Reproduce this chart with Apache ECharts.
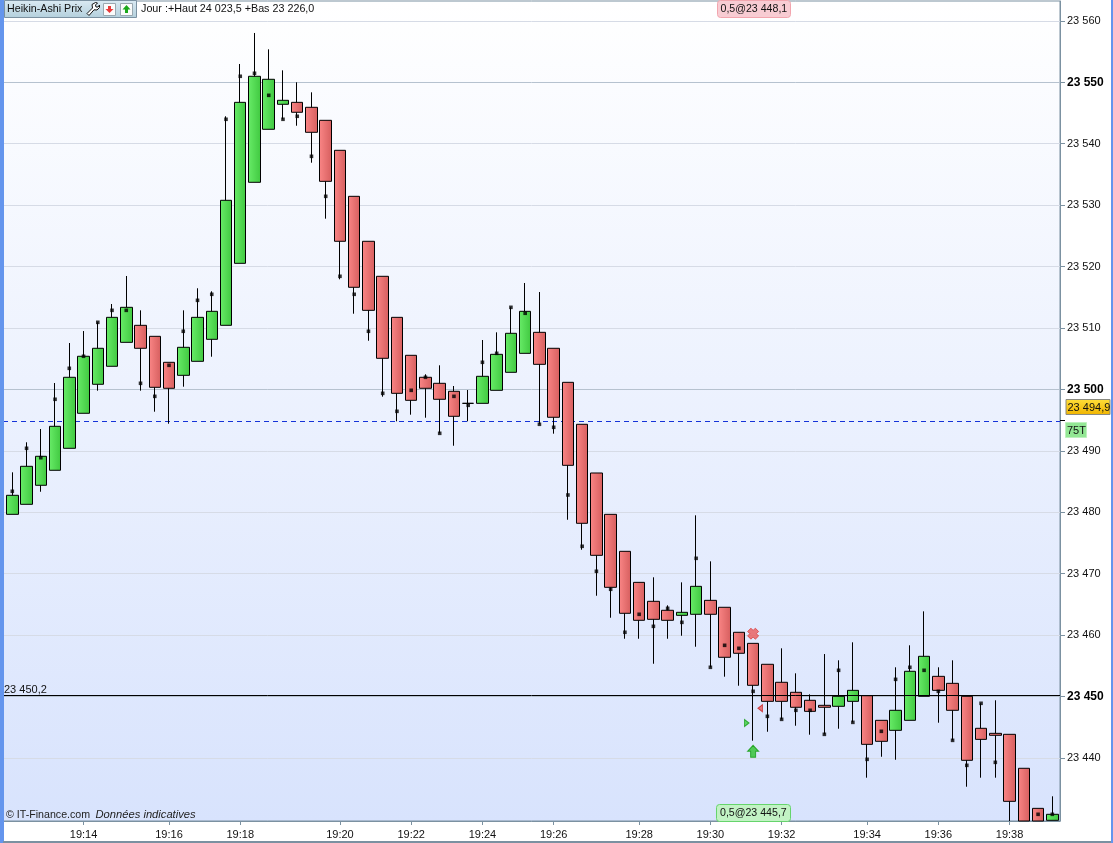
<!DOCTYPE html>
<html><head><meta charset="utf-8">
<style>html,body{margin:0;padding:0;background:#fff}#c{width:1113px;height:843px}</style>
<script src="https://cdn.jsdelivr.net/npm/echarts@6/dist/echarts.min.js"></script>
</head><body><div id="c"></div>
<script>
// Heikin-Ashi bodies and wicks, one entry per 75-tick bar
const opens=[23479.67,23481.30,23484.40,23486.84,23490.42,23496.12,23500.84,23503.77,23507.67,23510.44,23508.65,23504.42,23502.30,23504.58,23508.16,23510.44,23520.53,23533.72,23542.35,23546.42,23546.74,23545.93,23543.81,23538.93,23531.44,23524.12,23518.42,23511.74,23505.56,23501.98,23501.00,23499.70,23497.74,23497.74,23499.86,23502.79,23505.88,23509.30,23506.70,23501.16,23494.33,23486.40,23479.67,23473.65,23468.60,23465.51,23464.05,23463.23,23463.40,23465.67,23464.54,23460.47,23458.67,23455.26,23452.33,23450.70,23449.40,23448.58,23448.42,23449.23,23450.14,23446.14,23444.51,23446.14,23450.05,23453.30,23452.16,23450.05,23444.84,23444.02,23443.86,23438.33,23431.81,23429.86];
const closes=[23482.77,23487.49,23489.12,23494.00,23501.98,23505.40,23506.70,23511.74,23513.37,23506.70,23500.35,23500.19,23506.86,23511.74,23512.72,23530.79,23546.74,23550.98,23550.49,23547.07,23545.12,23541.86,23533.88,23524.12,23516.63,23512.88,23505.07,23499.37,23498.23,23500.19,23498.40,23495.63,23497.74,23502.14,23505.72,23509.14,23512.72,23504.09,23495.47,23487.65,23478.21,23473.00,23467.79,23463.56,23462.42,23462.58,23462.42,23463.72,23467.95,23463.40,23456.40,23457.05,23451.84,23449.23,23449.23,23448.26,23447.60,23448.26,23450.05,23451.02,23442.23,23442.72,23447.77,23454.12,23456.56,23451.02,23447.77,23439.63,23443.04,23443.70,23432.95,23429.75,23429.75,23430.84];
const lows=[23479.67,23481.30,23483.35,23486.84,23490.42,23496.12,23499.80,23503.77,23507.67,23499.80,23496.38,23494.42,23500.45,23504.58,23505.33,23510.44,23520.53,23533.72,23542.35,23543.98,23542.93,23536.91,23527.80,23517.93,23512.33,23507.93,23498.82,23494.81,23495.89,23495.40,23492.86,23490.84,23494.81,23497.74,23499.86,23502.79,23505.88,23494.33,23492.80,23478.79,23473.91,23466.42,23462.84,23459.42,23459.42,23455.35,23459.42,23459.91,23458.12,23454.77,23453.24,23451.77,23442.82,23444.28,23446.30,23445.26,23443.80,23443.86,23444.77,23445.81,23436.80,23440.21,23439.72,23446.14,23450.05,23445.75,23442.88,23435.33,23436.80,23436.80,23429.75,23429.75,23429.75,23429.86];
const highs=[23486.51,23491.40,23493.56,23501.05,23507.56,23509.51,23510.93,23513.91,23518.47,23512.88,23508.65,23504.42,23512.88,23516.47,23515.98,23544.47,23552.98,23558.03,23555.37,23551.95,23550.00,23548.37,23543.81,23538.93,23531.44,23524.12,23518.42,23511.74,23505.56,23502.47,23503.93,23500.56,23499.91,23508.05,23509.30,23513.37,23517.33,23515.86,23506.70,23501.16,23494.33,23486.40,23479.67,23473.65,23468.60,23469.42,23464.86,23468.60,23479.51,23472.02,23464.54,23460.47,23458.67,23455.26,23457.86,23453.79,23450.37,23456.93,23455.91,23458.84,23450.14,23446.14,23454.77,23458.35,23463.88,23454.77,23455.91,23450.05,23448.91,23449.40,23443.86,23438.33,23431.81,23433.77];
// Actual last price of each bar (small black squares)
const lasts=[23483.42,23490.42,23488.89,23498.40,23503.44,23505.40,23510.93,23512.88,23512.88,23501.00,23498.88,23503.93,23509.47,23514.51,23515.49,23543.98,23550.98,23551.47,23547.88,23543.98,23544.47,23537.95,23531.44,23518.42,23515.49,23509.47,23499.37,23496.44,23499.86,23501.98,23492.86,23498.88,23497.42,23504.42,23505.88,23513.37,23512.40,23494.33,23493.84,23482.82,23474.47,23470.40,23467.47,23460.47,23463.40,23461.44,23464.37,23462.09,23472.51,23454.77,23458.35,23457.86,23450.86,23446.79,23446.30,23447.77,23447.77,23443.86,23454.28,23445.81,23439.79,23444.35,23452.81,23454.77,23454.28,23450.86,23442.88,23438.81,23448.91,23439.30,23427.00,23426.00,23430.84,23430.84];
// Axis ticks
const xTickBars=[5,11,16,23,28,33,38,44,49,54,60,65,70];
const xTickLabels=['19:14','19:16','19:18','19:20','19:22','19:24','19:26','19:28','19:30','19:32','19:34','19:36','19:38'];
const yTicks=[23440,23450,23460,23470,23480,23490,23500,23510,23520,23530,23540,23550,23560];
const yTickLabels=['23 440','23 450','23 460','23 470','23 480','23 490','23 500','23 510','23 520','23 530','23 540','23 550','23 560'];
const yMajor=[23450,23500,23550];
// Reference levels and order markers
const refLast=23494.9, refLine=23450.2;
const markCross=[52,23460.24], markArrow=[52,23441.1], markSell=[52.5,23448.1], markBuy=[51.55,23445.7];

const FONT='"Liberation Sans",Arial,sans-serif';
const G=echarts.graphic.LinearGradient;
const grad=(a,b)=>new G(0,0,1,0,[{offset:0,color:a},{offset:1,color:b}]);
const vgrad=(a,b)=>new G(0,0,0,1,[{offset:0,color:a},{offset:1,color:b}]);
const EDGE='#7b91a1';
const txt=(x,y,text,size,extra)=>({type:'text',x,y,z:50,style:Object.assign({text,fontFamily:FONT,fontSize:size,fill:'#111',textVerticalAlign:'middle',verticalAlign:'middle'},extra||{})});
const rect=(x,y,w,h,fill,stroke,r)=>({type:'rect',z:49,shape:{x,y,width:w,height:h,r:r||0},style:{fill,stroke:stroke||null,lineWidth:stroke?1:0}});

const graphics=[
 rect(0,0,4,843,'#6495ed'),
 rect(1111,0,2,843,'#6495ed'),
 rect(3,841,1108,2,EDGE),
 rect(4.5,0.5,132,17,vgrad('#dbeaf3','#b3cfdc'),EDGE),
 txt(7,9.5,'Heikin-Ashi Prix',10.7),
 {type:'polygon',z:50,shape:{points:[[87,13.5],[92.5,8],[92,4.5],[95.5,2.5],[97.5,3],[95.5,5],[96,7],[98,7],[99.5,5],[99.5,7.5],[97,10],[94,9.8],[89,15.5]]},style:{fill:'#fff',stroke:'#111',lineWidth:1}},
 rect(103.5,3.5,12,12,'#fbfbfb','#9aa8b0'),
 {type:'polygon',z:50,shape:{points:[[109.5,13],[105.5,9],[108,9],[108,6],[111,6],[111,9],[113.5,9]]},style:{fill:'#e83a3a'}},
 rect(120.5,3.5,12,12,'#fbfbfb','#9aa8b0'),
 {type:'polygon',z:50,shape:{points:[[126.5,5],[122.5,9.5],[125,9.5],[125,13],[128,13],[128,9.5],[130.5,9.5]]},style:{fill:'#1aa81a'}},
 txt(141,9.5,'Jour :+Haut 24 023,5 +Bas 23 226,0',10.75),
 rect(717.5,0.5,73,17,'#f8ccd3','#f2a5ae',3),
 txt(720.5,9.5,'0,5@23 448,1',10.6),
 rect(716.5,804.5,74,17,'#c2f2c4','#66d46c',3),
 txt(720,813,'0,5@23 445,7',10.6),
 rect(1066,399.5,44,15,vgrad('#ffdf3a','#f0b400'),'#8a8a80'),
 txt(1067.5,407.5,'23 494,9',11),
 rect(1065.5,422.5,21,15,'#93e794','#bdf0bd'),
 txt(1067,430.5,'75T',11),
 {type:'line',z:50,shape:{x1:1060,y1:420.5,x2:1065,y2:420.5},style:{stroke:'#000',lineWidth:1}},
 txt(6,815,'© IT-Finance.com',10.65,{fill:'#222'}),
 txt(95.5,815,'Données indicatives',11.2,{fontStyle:'italic',fill:'#222'})
];

const marker=(name,point,symbol,size,fill,stroke)=>({name,type:'scatter',z:8,silent:true,data:[point],symbol,symbolSize:size,itemStyle:{color:fill,borderColor:stroke,borderWidth:1}});

const chart=echarts.init(document.getElementById('c'),null,{renderer:'canvas'});
chart.setOption({
 animation:false,
 textStyle:{fontFamily:FONT},
 graphic:{elements:graphics},
 grid:{show:true,left:3,top:1,width:1057,height:820,backgroundColor:vgrad('#ffffff','#d8e3fd'),borderColor:EDGE,borderWidth:1},
 xAxis:{type:'value',min:-0.653,max:73.54,
  axisLine:{show:true,onZero:false,lineStyle:{color:EDGE}},
  axisTick:{show:true,length:4,lineStyle:{color:EDGE},customValues:xTickBars},
  axisLabel:{show:true,color:'#111',fontSize:11,fontFamily:FONT,margin:8,customValues:xTickBars,
   formatter:v=>xTickLabels[xTickBars.indexOf(Math.round(v))]||''},
  splitLine:{show:false}},
 yAxis:{type:'value',position:'right',min:23429.75,max:23563.235,
  axisLine:{show:true,onZero:false,lineStyle:{color:EDGE}},
  axisTick:{show:true,length:5,lineStyle:{color:EDGE},customValues:yTicks},
  axisLabel:{show:true,color:'#111',fontSize:11,fontFamily:FONT,margin:7,customValues:yTicks,
   formatter:v=>{const s=yTickLabels[yTicks.indexOf(v)]||'';return yMajor.includes(v)?'{b|'+s+'}':s;},
   rich:{b:{fontSize:12,fontWeight:'bold',color:'#000',fontFamily:FONT}}},
  splitLine:{show:true,lineStyle:{width:1,color:['#d6dbe6','#b6c2cf','#d6dbe6','#d6dbe6','#d6dbe6']}}},
 series:[
  {name:'Heikin-Ashi',type:'candlestick',z:3,barWidth:12,silent:true,
   data:opens.map((o,i)=>[i,o,closes[i],lows[i],highs[i]]),
   itemStyle:{color:grad('#68ec68','#40c840'),color0:grad('#fa8686','#d65e5e'),borderColor:'#000',borderColor0:'#000',borderColorDoji:'#000',borderWidth:1}},
  {name:'refs',type:'line',z:1,silent:true,data:[],
   markLine:{silent:true,symbol:'none',animation:false,z:1,label:{show:false},
    data:[{yAxis:refLast,lineStyle:{color:'#1533d8',type:[5,4],width:1}}]}},
  {name:'ref2',type:'line',z:7,silent:true,data:[],
   markLine:{silent:true,symbol:'none',animation:false,z:7,
    data:[{yAxis:refLine,lineStyle:{color:'#000',type:'solid',width:1},
     label:{show:true,position:'insideStartTop',distance:[1,0],formatter:'23 450,2',color:'#111',fontSize:11,fontFamily:FONT}}]}},
  {name:'Dernier',type:'scatter',z:6,silent:true,symbol:'rect',symbolSize:3.6,
   data:lasts.map((v,i)=>[i,v]),itemStyle:{color:'#000'}},
  marker('Clôture',markCross,'path://M3 0 L5 2 L7 0 L10 3 L8 5 L10 7 L7 10 L5 8 L3 10 L0 7 L2 5 L0 3 Z',[11,11],'#ea5a5a','#dc4040'),
  marker('Achat',markArrow,'path://M5.5 0 L11 6 L8 6 L8 12 L3 12 L3 6 L0 6 Z',[11,12],'#2cc22c','#119a11'),
  marker('Vente',markSell,'path://M6 0 L6 8 L0 4 Z',[4.5,7],'#e85a5a','#c82020'),
  marker('Entrée',markBuy,'path://M0 0 L6 4 L0 8 Z',[4.5,7],'#3ad03a','#119a11')
 ]
});
</script></body></html>
